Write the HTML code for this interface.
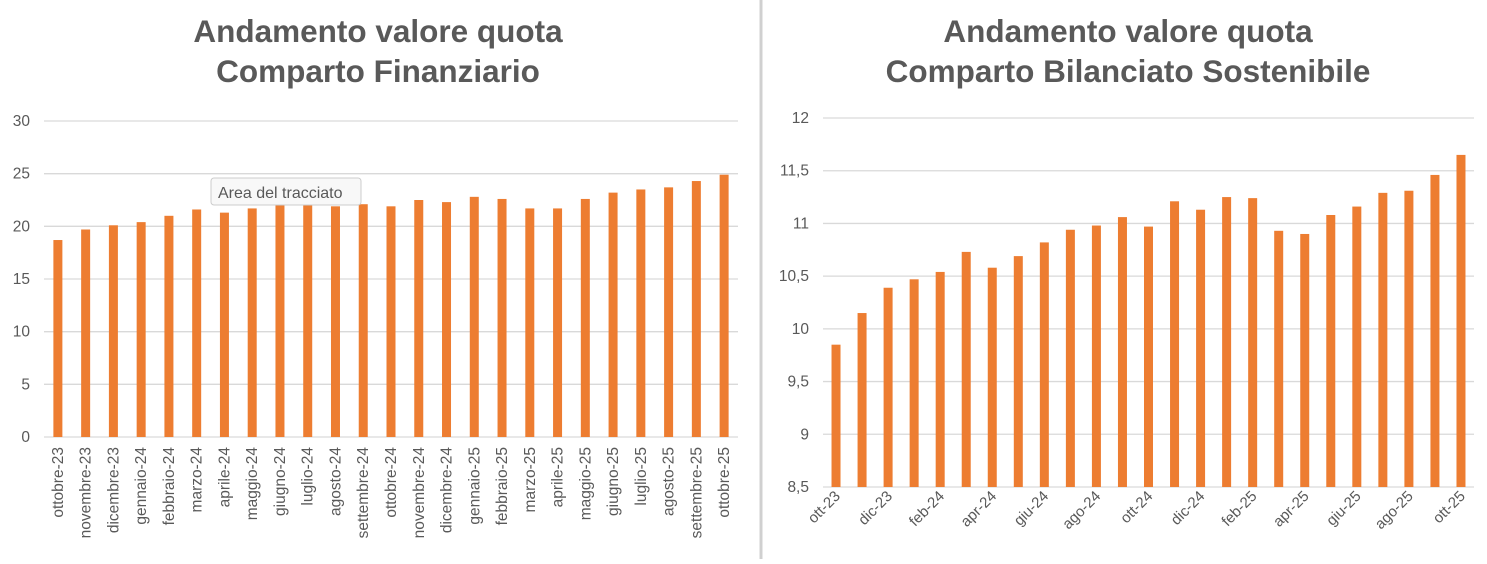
<!DOCTYPE html>
<html><head><meta charset="utf-8"><style>
body{margin:0;background:#fff;font-family:"Liberation Sans",sans-serif}
svg text{font-family:"Liberation Sans",sans-serif}
</style></head><body>
<svg width="1487" height="559">
<rect width="1487" height="559" fill="#fff"/>
<line x1="761" y1="0" x2="761" y2="559" stroke="#d0d0d0" stroke-width="3"/>
<g id="L"></g>
<g id="R"></g>
<g>
<rect x="211" y="178" width="150" height="27" rx="3" fill="#f8f8f8" stroke="#ccc"/>
<text x="218" y="198" font-size="16" fill="#595959">Area del tracciato</text>
</g>
</svg>
<script>
const leftCats=["ottobre-23","novembre-23","dicembre-23","gennaio-24","febbraio-24","marzo-24","aprile-24","maggio-24","giugno-24","luglio-24","agosto-24","settembre-24","ottobre-24","novembre-24","dicembre-24","gennaio-25","febbraio-25","marzo-25","aprile-25","maggio-25","giugno-25","luglio-25","agosto-25","settembre-25","ottobre-25"];
const leftVals=[18.7,19.7,20.1,20.4,21.0,21.6,21.3,21.7,22.0,22.0,21.9,22.1,21.9,22.5,22.3,22.8,22.6,21.7,21.7,22.6,23.2,23.5,23.7,24.3,24.9];
const leftTicks=[0,5,10,15,20,25,30];
const rightCats=["ott-23","nov-23","dic-23","gen-24","feb-24","mar-24","apr-24","mag-24","giu-24","lug-24","ago-24","set-24","ott-24","nov-24","dic-24","gen-25","feb-25","mar-25","apr-25","mag-25","giu-25","lug-25","ago-25","set-25","ott-25"];
const rightVals=[9.85,10.15,10.39,10.47,10.54,10.73,10.58,10.69,10.82,10.94,10.98,11.06,10.97,11.21,11.13,11.25,11.24,10.93,10.90,11.08,11.16,11.29,11.31,11.46,11.65];
const rightTicks=[8.5,9,9.5,10,10.5,11,11.5,12];
const NS="http://www.w3.org/2000/svg";
function mk(p,t,a){const e=document.createElementNS(NS,t);for(const k in a)e.setAttribute(k,a[k]);p.appendChild(e);return e;}
function draw(g,o){
  const y=v=>o.y0-(v-o.min)/(o.max-o.min)*(o.y0-o.y1);
  const step=(o.x1-o.x0)/o.cats.length;
  o.titles.forEach((t,i)=>{const e=mk(g,'text',{x:o.tx,y:42+i*40,'text-anchor':'middle','font-size':31.5,'font-weight':'bold',fill:'#595959'});e.textContent=t;
    
    });
  o.ticks.forEach(t=>{const l=mk(g,'line',{x1:o.x0,x2:o.x1,y1:y(t),y2:y(t),stroke:'#d9d9d9','stroke-width':1.3});
    
    
    const e=mk(g,'text',{x:o.x0-14,y:y(t)+5,'text-anchor':'end','font-size':15.5,fill:'#595959'});e.textContent=o.fmt(t);
    
    });
  o.vals.forEach((v,i)=>{const cx=o.x0+step*(i+0.5);
    const r=mk(g,'rect',{x:cx-4.5,y:y(v),width:9,height:o.y0-y(v),fill:'#ed7d31'});
    
    
    if(i%o.every===0){const e=mk(g,'text',{'font-size':o.lf,fill:'#595959','text-anchor':'end',transform:`translate(${cx+5},${o.y0+10}) rotate(${o.rot})`});e.textContent=o.cats[i];
      
      }
  });
}
draw(document.getElementById('L'),{cats:leftCats,vals:leftVals,ticks:leftTicks,min:0,max:30,x0:44,x1:738,y0:437,y1:121,tx:378,titles:["Andamento valore quota","Comparto Finanziario"],every:1,rot:-90,lf:15.5,fmt:t=>t});
draw(document.getElementById('R'),{cats:rightCats,vals:rightVals,ticks:rightTicks,min:8.5,max:12,x0:823,x1:1474,y0:487,y1:118,tx:1128,titles:["Andamento valore quota","Comparto Bilanciato Sostenibile"],every:2,rot:-45,lf:15,fmt:t=>String(t).replace('.',',')});
</script>
</body></html>
